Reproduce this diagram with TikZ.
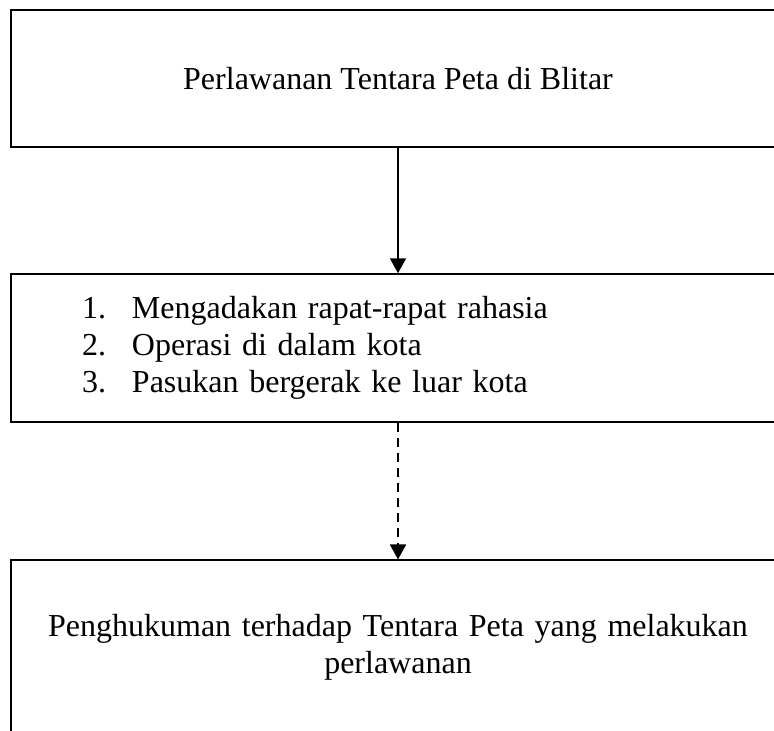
\documentclass[tikz,border=0pt]{standalone}
\usepackage{fontspec}
\setmainfont{Liberation Serif}
\usetikzlibrary{arrows.meta, positioning}

\begin{document}
\begin{tikzpicture}[x=1pt, y=-1pt,
    box/.style={draw, rectangle, minimum width=774pt, inner sep=0pt, font=\fontsize{32}{36.8}\selectfont},
    flow/.style={line width=1.8pt, -{Triangle[length=15pt, width=16pt]}}]
    \useasboundingbox (0, 0) rectangle (774, 731);
    \clip (0, 0) rectangle (774, 731);

    % Event boxes
    \node[box, line width=1.8pt, minimum height=137pt] (blitar) at (398, 78.5) {Perlawanan Tentara Peta di Blitar};

    \node[box, line width=1.5pt, minimum height=148pt, text width=632pt, align=left] (operasi) at (398, 348) {%
        \makebox[50pt][l]{1.}Mengadakan rapat-rapat rahasia\\
        \makebox[50pt][l]{2.}Operasi di dalam kota\\
        \makebox[50pt][l]{3.}Pasukan bergerak ke luar kota};

    \node[box, line width=1.1pt, minimum height=175pt, text width=730pt, align=center] (hukuman) at (398, 647.5) {Penghukuman terhadap Tentara Peta yang melakukan\\ perlawanan};

    % Connectors
    \draw[flow] (blitar.south) -- (operasi.north);
    \draw[flow, dash pattern=on 9pt off 6pt] (operasi.south) -- (hukuman.north);

\end{tikzpicture}
\end{document}
